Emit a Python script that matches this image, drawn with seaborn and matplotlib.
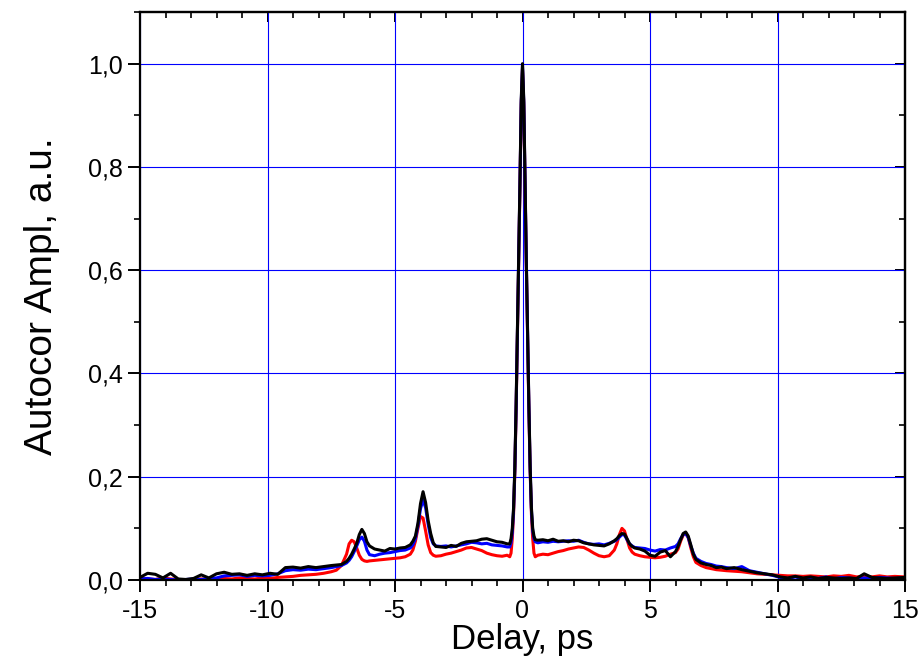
import numpy as np
import pandas as pd
import matplotlib
matplotlib.use("Agg")
import matplotlib.pyplot as plt
from matplotlib.ticker import MultipleLocator, FuncFormatter
import seaborn as sns

# Delay axis (ps)
delay = [-15.0, -14.7, -14.4, -14.1, -13.8, -13.5, -13.2, -12.9, -12.6, -12.3,
         -12.0, -11.7, -11.4, -11.1, -10.8, -10.5, -10.2, -9.9, -9.6, -9.3,
         -9.0, -8.7, -8.4, -8.1, -7.8, -7.5,
         -7.3, -7.1, -6.9, -6.8, -6.7, -6.6, -6.5, -6.4, -6.3, -6.2,
         -6.1, -6.0, -5.8, -5.6, -5.4, -5.2, -5.0, -4.8, -4.6, -4.4,
         -4.3, -4.2, -4.1, -4.0, -3.9, -3.8, -3.7, -3.6, -3.5, -3.4,
         -3.2, -3.0, -2.8, -2.6, -2.4, -2.2, -2.0, -1.8, -1.6, -1.4,
         -1.2, -1.0, -0.8, -0.6,
         -0.5, -0.45, -0.4, -0.35, -0.3, -0.25, -0.2, -0.15, -0.1, -0.05,
         0.0, 0.05, 0.1, 0.15, 0.2, 0.25, 0.3, 0.35, 0.4, 0.45, 0.5,
         0.6, 0.8, 1.0, 1.2, 1.4, 1.6, 1.8, 2.0, 2.2, 2.4,
         2.6, 2.8, 3.0, 3.2, 3.4, 3.6, 3.7, 3.8, 3.9, 4.0,
         4.1, 4.2, 4.3, 4.4, 4.6, 4.8, 5.0, 5.2, 5.4, 5.6,
         5.8, 6.0, 6.1, 6.2, 6.3, 6.4, 6.5, 6.6, 6.7, 6.8,
         7.0, 7.2, 7.4, 7.6, 7.8, 8.0,
         8.3, 8.6, 8.9, 9.2, 9.5, 9.8, 10.1, 10.4, 10.7, 11.0,
         11.3, 11.6, 11.9, 12.2, 12.5, 12.8, 13.1, 13.4, 13.7, 14.0,
         14.3, 14.6, 15.0]

red = [0.003, 0.002, 0.001, 0.004, 0.002, 0.001, 0.000, 0.001, 0.002, 0.001,
       0.002, 0.003, 0.002, 0.004, 0.003, 0.002, 0.004, 0.003, 0.005, 0.006,
       0.007, 0.009, 0.010, 0.011, 0.013, 0.016,
       0.019, 0.028, 0.050, 0.070, 0.077, 0.074, 0.062, 0.048, 0.040, 0.037,
       0.036, 0.037, 0.038, 0.039, 0.040, 0.041, 0.042, 0.043, 0.045, 0.050,
       0.058, 0.075, 0.100, 0.123, 0.120, 0.095, 0.068, 0.053, 0.048, 0.046,
       0.047, 0.050, 0.052, 0.055, 0.058, 0.062, 0.063, 0.060, 0.057, 0.052,
       0.049, 0.047, 0.046, 0.048,
       0.045, 0.052, 0.080, 0.128, 0.210, 0.330, 0.470, 0.610, 0.760, 0.920,
       0.990, 0.920, 0.760, 0.610, 0.470, 0.330, 0.210, 0.128, 0.080, 0.052, 0.045,
       0.048, 0.050, 0.049, 0.052, 0.055, 0.057, 0.060, 0.062, 0.064, 0.063,
       0.058, 0.052, 0.047, 0.045, 0.047, 0.058, 0.070, 0.088, 0.100, 0.095,
       0.078, 0.062, 0.054, 0.050, 0.047, 0.045, 0.044, 0.043, 0.044, 0.046,
       0.050, 0.053, 0.060, 0.075, 0.087, 0.091, 0.082, 0.062, 0.045, 0.034,
       0.028, 0.024, 0.022, 0.020, 0.019, 0.018,
       0.017, 0.016, 0.014, 0.012, 0.011, 0.010, 0.009, 0.008, 0.008, 0.007,
       0.008, 0.007, 0.006, 0.008, 0.007, 0.009, 0.006, 0.007, 0.006, 0.008,
       0.006, 0.007, 0.006]

blue = [0.002, 0.003, 0.001, 0.002, 0.001, 0.000, 0.001, 0.002, 0.001, 0.003,
        0.004, 0.008, 0.009, 0.010, 0.007, 0.009, 0.008, 0.009, 0.012, 0.018,
        0.020, 0.019, 0.021, 0.020, 0.022, 0.024,
        0.026, 0.028, 0.033, 0.038, 0.045, 0.055, 0.066, 0.078, 0.083, 0.075,
        0.058, 0.049, 0.047, 0.050, 0.052, 0.053, 0.055, 0.057, 0.058, 0.062,
        0.068, 0.080, 0.105, 0.138, 0.155, 0.140, 0.108, 0.082, 0.070, 0.066,
        0.065, 0.066, 0.064, 0.066, 0.068, 0.070, 0.073, 0.072, 0.070, 0.071,
        0.068, 0.067, 0.066, 0.064,
        0.064, 0.072, 0.092, 0.135, 0.215, 0.335, 0.475, 0.615, 0.765, 0.925,
        0.995, 0.925, 0.765, 0.615, 0.475, 0.335, 0.215, 0.135, 0.095, 0.080, 0.074,
        0.072, 0.074, 0.073, 0.075, 0.074, 0.075, 0.076, 0.075, 0.077, 0.073,
        0.070, 0.069, 0.070, 0.068, 0.071, 0.075, 0.078, 0.083, 0.088, 0.087,
        0.078, 0.070, 0.066, 0.063, 0.062, 0.061, 0.058, 0.056, 0.059, 0.058,
        0.062, 0.065, 0.070, 0.080, 0.088, 0.090, 0.082, 0.066, 0.052, 0.042,
        0.036, 0.032, 0.030, 0.027, 0.026, 0.024,
        0.022, 0.026, 0.018, 0.015, 0.012, 0.009, 0.005, 0.003, 0.006, 0.002,
        0.004, 0.003, 0.006, 0.002, 0.005, 0.004, 0.002, 0.004, 0.003, 0.005,
        0.004, 0.003, 0.004]

black = [0.005, 0.013, 0.011, 0.004, 0.013, 0.002, 0.001, 0.003, 0.010, 0.004,
         0.012, 0.015, 0.011, 0.012, 0.009, 0.012, 0.010, 0.013, 0.011, 0.024,
         0.025, 0.023, 0.026, 0.024, 0.026, 0.028,
         0.029, 0.030, 0.036, 0.042, 0.050, 0.060, 0.071, 0.088, 0.098, 0.090,
         0.074, 0.066, 0.060, 0.058, 0.056, 0.061, 0.060, 0.062, 0.063, 0.068,
         0.075, 0.085, 0.110, 0.148, 0.171, 0.150, 0.115, 0.090, 0.072, 0.065,
         0.064, 0.063, 0.067, 0.065, 0.071, 0.074, 0.075, 0.076, 0.079, 0.080,
         0.077, 0.074, 0.073, 0.070,
         0.070, 0.080, 0.100, 0.140, 0.220, 0.340, 0.480, 0.620, 0.770, 0.930,
         1.000, 0.930, 0.770, 0.620, 0.480, 0.340, 0.220, 0.140, 0.100, 0.085, 0.078,
         0.077, 0.078, 0.076, 0.079, 0.075, 0.076, 0.074, 0.077, 0.076, 0.072,
         0.070, 0.068, 0.067, 0.066, 0.070, 0.076, 0.080, 0.086, 0.090, 0.089,
         0.080, 0.070, 0.065, 0.062, 0.060, 0.056, 0.048, 0.046, 0.054, 0.057,
         0.045, 0.055, 0.065, 0.078, 0.090, 0.093, 0.085, 0.068, 0.050, 0.040,
         0.033, 0.030, 0.028, 0.024, 0.025, 0.022,
         0.024, 0.020, 0.017, 0.014, 0.012, 0.010, 0.006, 0.004, 0.007, 0.004,
         0.006, 0.003, 0.005, 0.004, 0.003, 0.004, 0.003, 0.012, 0.005, 0.004,
         0.003, 0.004, 0.005]

series_names = ["red", "blue", "black"]
series_colors = ["#ff0000", "#0000ff", "#000000"]

x_ticks = [-15, -10, -5, 0, 5, 10, 15]
y_ticks = [0.0, 0.2, 0.4, 0.6, 0.8, 1.0]

df = pd.concat([
    pd.DataFrame({"delay": delay, "amp": vals, "series": name})
    for name, vals in zip(series_names, [red, blue, black])
], ignore_index=True)

sns.set_style("ticks")
plt.rcParams["font.family"] = ["Liberation Sans", "DejaVu Sans"]
plt.rcParams["axes.unicode_minus"] = False
plt.rcParams["text.color"] = "black"
plt.rcParams["axes.labelcolor"] = "black"
plt.rcParams["xtick.color"] = "black"
plt.rcParams["ytick.color"] = "black"

fig = plt.figure(figsize=(9.24, 6.72), dpi=100)
ax = fig.add_axes([140 / 924, 92 / 672, 765 / 924, 568 / 672])

sns.lineplot(data=df, x="delay", y="amp", hue="series",
             palette=dict(zip(series_names, series_colors)),
             hue_order=series_names, sort=False, estimator=None,
             linewidth=2.2, legend=False, ax=ax)

ax.set_xlim(-15, 15)
ax.set_ylim(0, 1.1)
ax.set_xticks(x_ticks)
ax.set_yticks(y_ticks)
ax.xaxis.set_minor_locator(MultipleLocator(1))
ax.yaxis.set_minor_locator(MultipleLocator(0.1))
ax.yaxis.set_major_formatter(FuncFormatter(lambda v, p: f"{v:.1f}".replace(".", ",")))
ax.xaxis.set_major_formatter(FuncFormatter(lambda v, p: f"{int(round(v))}"))

ax.grid(True, which="major", color="#0000ff", linewidth=0.8)
ax.set_axisbelow(True)
for s in ax.spines.values():
    s.set_linewidth(1.6)
    s.set_color("black")
    s.set_visible(True)

ax.tick_params(which="major", direction="out", length=8.5, width=1.4,
               labelsize=18, colors="black")
ax.tick_params(axis="y", which="major", pad=4)
ax.tick_params(axis="x", which="major", pad=5)
ax.tick_params(which="minor", direction="out", length=4.5, width=1.2, colors="black")

# mirrored inward ticks on top and right
ax_top = ax.secondary_xaxis("top")
ax_top.set_xticks(x_ticks)
ax_top.xaxis.set_minor_locator(MultipleLocator(1))
ax_top.tick_params(which="major", direction="in", length=7, width=1.4, labeltop=False)
ax_top.tick_params(which="minor", direction="in", length=4, width=1.2)
ax_top.spines["top"].set_linewidth(1.6)
ax_right = ax.secondary_yaxis("right")
ax_right.set_yticks(y_ticks)
ax_right.yaxis.set_minor_locator(MultipleLocator(0.1))
ax_right.tick_params(which="major", direction="in", length=7, width=1.4, labelright=False)
ax_right.tick_params(which="minor", direction="in", length=4, width=1.2)
ax_right.spines["right"].set_linewidth(1.6)

ax.set_xlabel("Delay, ps", fontsize=25, labelpad=0, color="black")
ax.set_ylabel("Autocor Ampl, a.u.", fontsize=28, labelpad=20, color="black")

fig.savefig("out.png", dpi=100)
